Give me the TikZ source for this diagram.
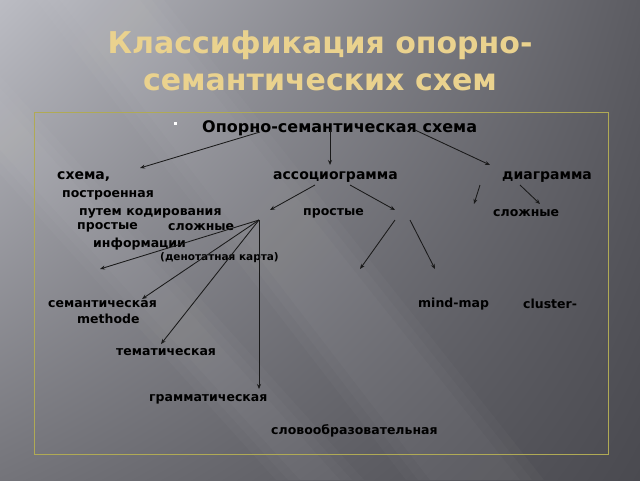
\documentclass[tikz,border=0pt]{standalone}
\usepackage{fontspec}
\setmainfont{DejaVu Sans}
\usetikzlibrary{arrows.meta,shadings}
\definecolor{slideul}{HTML}{BBBCC3}
\definecolor{slideur}{HTML}{5C5C62}
\definecolor{slidell}{HTML}{74747A}
\definecolor{slidelr}{HTML}{4A4A50}
\definecolor{titlegold}{HTML}{EAD28E}
\definecolor{frameolive}{HTML}{B0AA55}
\tikzset{
  lbl/.style={anchor=west,inner sep=0pt,font=\fontsize{12.5}{14}\selectfont\bfseries,text=black},
  lblbig/.style={lbl,font=\fontsize{14}{16}\selectfont\bfseries},
  lblsmall/.style={lbl,font=\fontsize{10.5}{12}\selectfont\bfseries},
  titletext/.style={anchor=base,inner sep=0pt,font=\fontsize{30}{36}\selectfont\bfseries,text=titlegold},
  arr/.style={-{Stealth[length=5pt,width=4pt]},line width=0.85pt,draw=black!90},
  streak/.style={fill=white,opacity=0.025}
}
\begin{document}
\begin{tikzpicture}[x=1pt,y=-1pt]
				\useasboundingbox (0,0) rectangle (640,480);
				\shade[upper left=slideul,upper right=slideur,lower left=slidell,lower right=slidelr] (0,0) rectangle (640,480);
				\foreach \w in {0,12,24} {
					\fill[streak] (0,100-\w) -- (0,150+\w) -- (300-\w,480) -- (340+\w,480) -- cycle;
					\fill[streak] (60-\w,0) -- (140+\w,0) -- (520+\w,480) -- (430-\w,480) -- cycle;
				}
				\node[titletext] (title) at (320,53) {Классификация опорно-};
				\node[titletext] (titleb) at (320,90) {семантических схем};
				\draw[frameolive,line width=0.6pt] (34,112) rectangle (608,454);
				\fill[white] (173.5,121.5) rectangle (176.5,124.5);
				\node[lbl,font=\fontsize{16}{18}\selectfont\bfseries] (oss) at (202,128) {Опорно-семантическая схема};
				\node[lblbig] (shema) at (57,177) {схема,};
				\node[lblbig] (assoc) at (273,177) {ассоциограмма};
				\node[lblbig] (diagr) at (502,177) {диаграмма};
				\node[lbl] (postr) at (62,195) {построенная};
				\node[lbl] (putem) at (79,213) {путем кодирования};
				\node[lbl] (prostA) at (303,213) {простые};
				\node[lbl] (slozhD) at (493,213) {сложные};
				\node[lbl] (prostL) at (77,227) {простые};
				\node[lbl] (slozhL) at (168,227) {сложные};
				\node[lbl] (inform) at (93,244) {информации};
				\node[lblsmall] (denot) at (160,258) {(денотатная карта)};
				\node[lbl] (seman) at (48,304) {семантическая};
				\node[lbl] (method) at (77,319) {methode};
				\node[lbl] (mind) at (418,304) {mind-map};
				\node[lbl] (clust) at (523,304) {cluster-};
				\node[lbl] (temat) at (116,352) {тематическая};
				\node[lbl] (gramm) at (149,399) {грамматическая};
				\node[lbl] (slovo) at (271,431) {словообразовательная};
				\coordinate (O1) at (260,132);
				\coordinate (O2) at (330,130);
				\coordinate (O3) at (415,130);
				\coordinate (S) at (140,168);
				\coordinate (A) at (330,165);
				\coordinate (D) at (490,165);
				\coordinate (A1) at (315,185);
				\coordinate (A2) at (350,185);
				\coordinate (AL) at (270,210);
				\coordinate (AR) at (395,210);
				\coordinate (F) at (259,220);
				\coordinate (F1) at (100,269);
				\coordinate (F2) at (142,299);
				\coordinate (F3) at (161,344);
				\coordinate (F4) at (259,389);
				\coordinate (P1) at (395,220);
				\coordinate (P2) at (410,220);
				\coordinate (M1) at (360,269);
				\coordinate (M2) at (435,269);
				\coordinate (D1) at (480,185);
				\coordinate (D2) at (520,185);
				\coordinate (DL) at (474,204);
				\coordinate (DR) at (540,204);
				\draw[arr] (O1) to (S);
				\draw[arr] (O2) to (A);
				\draw[arr] (O3) to (D);
				\draw[arr] (A1) to (AL);
				\draw[arr] (A2) to (AR);
				\draw[arr] (F) to (F1);
				\draw[arr] (F) to (F2);
				\draw[arr] (F) to (F3);
				\draw[arr] (F) to (F4);
				\draw[arr] (P1) to (M1);
				\draw[arr] (P2) to (M2);
				\draw[arr] (D1) to (DL);
				\draw[arr] (D2) to (DR);
			\end{tikzpicture}
\end{document}
